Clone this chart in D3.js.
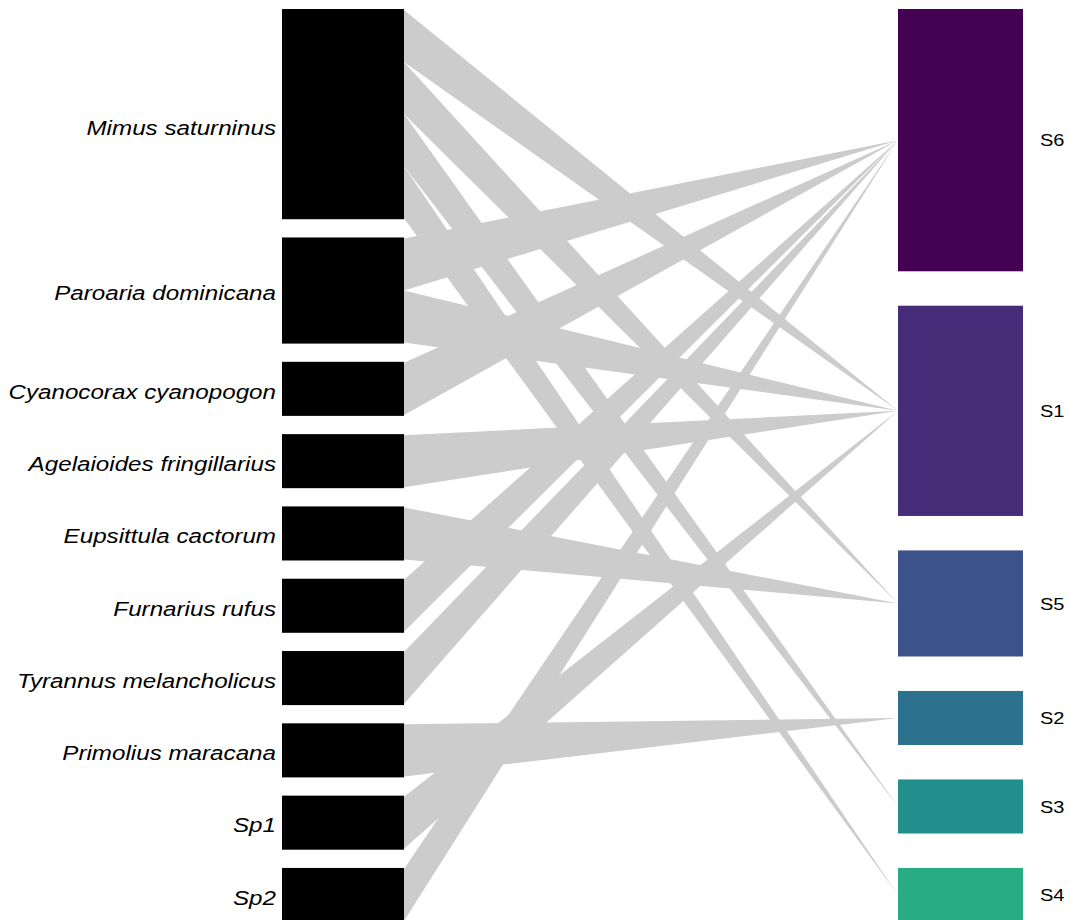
<!DOCTYPE html>
<html>
<head>
<meta charset="utf-8">
<script src="https://cdn.jsdelivr.net/npm/d3@7"></script>
<style>
  html, body { margin: 0; padding: 0; background: #ffffff; }
  svg { display: block; }
  text { font-family: "Liberation Sans", Arial, sans-serif; fill: #000; }
</style>
</head>
<body>
<svg id="web" width="1070" height="920"></svg>
<script>
// Lower level: bird species
const birds = [
  "Mimus saturninus",
  "Paroaria dominicana",
  "Cyanocorax cyanopogon",
  "Agelaioides fringillarius",
  "Eupsittula cactorum",
  "Furnarius rufus",
  "Tyrannus melancholicus",
  "Primolius maracana",
  "Sp1",
  "Sp2"
];

// Higher level: sites, in display order
const sites = ["S6", "S1", "S5", "S2", "S3", "S4"];
const siteColors = ["#440154", "#472c7a", "#3b528b", "#2c728e", "#21908c", "#27ad81"];

// Interaction counts: one row per bird, columns follow `sites`
const visits = [
  [0, 1, 1, 0, 1, 1],
  [1, 1, 0, 0, 0, 0],
  [1, 0, 0, 0, 0, 0],
  [0, 1, 0, 0, 0, 0],
  [0, 0, 1, 0, 0, 0],
  [1, 0, 0, 0, 0, 0],
  [1, 0, 0, 0, 0, 0],
  [0, 0, 0, 1, 0, 0],
  [0, 1, 0, 0, 0, 0],
  [1, 0, 0, 0, 0, 0]
];

const svg = d3.select("#web");

// Geometry of the two columns
const yTop = 10, yBottom = 921, spacing = 0.2;
const lowX0 = 283, lowX1 = 403;     // bird boxes
const highX0 = 899, highX1 = 1022;  // site boxes
const linkX0 = 404, linkX1 = 898;

const birdTotals = visits.map(r => d3.sum(r));
const siteTotals = sites.map((_, j) => d3.sum(visits, r => r[j]));
const grand = d3.sum(birdTotals);

// interactions -> pixels
const u = d3.scaleLinear()
  .domain([0, grand])
  .range([0, (yBottom - yTop) * (1 - spacing)]);
const gapPx = (yBottom - yTop) * spacing;

function stack(totals) {
  const gap = gapPx / (totals.length - 1);
  let y = yTop;
  return totals.map(t => {
    const b = { y0: y, y1: y + u(t) };
    y = b.y1 + gap;
    return b;
  });
}

const birdBoxes = stack(birdTotals);
const siteBoxes = stack(siteTotals);

// Links: each bird's band is split in site order and tapers to the site centre
const links = [];
visits.forEach((row, i) => {
  let y = birdBoxes[i].y0;
  row.forEach((v, j) => {
    if (v > 0) {
      links.push({ i, j, y0: y, y1: y + u(v) });
      y += u(v);
    }
  });
});

svg.append("g")
  .selectAll("path")
  .data(links)
  .join("path")
  .attr("fill", "#cccccc")
  .attr("stroke", "none")
  .attr("d", d => {
    const p = d3.path();
    const cy = (siteBoxes[d.j].y0 + siteBoxes[d.j].y1) / 2;
    p.moveTo(linkX0, d.y0);
    p.lineTo(linkX0, d.y1);
    p.lineTo(linkX1, cy);
    p.closePath();
    return p.toString();
  });

// Bird boxes
svg.append("g")
  .selectAll("rect")
  .data(birdBoxes)
  .join("rect")
  .attr("x", lowX0)
  .attr("width", lowX1 - lowX0)
  .attr("y", d => d.y0)
  .attr("height", d => d.y1 - d.y0)
  .attr("fill", "#000")
  .attr("stroke", "#000")
  .attr("stroke-width", 2);

// Site boxes
svg.append("g")
  .selectAll("rect")
  .data(siteBoxes)
  .join("rect")
  .attr("x", highX0)
  .attr("width", highX1 - highX0)
  .attr("y", d => d.y0)
  .attr("height", d => d.y1 - d.y0)
  .attr("fill", (d, j) => siteColors[j])
  .attr("stroke", (d, j) => siteColors[j])
  .attr("stroke-width", 2);

// Bird labels (the tall first box carries its label a little below centre)
const labelY = (b, i) => (b.y0 + b.y1) / 2 + 3 + (i === 0 ? 11 : 0);
svg.append("g")
  .selectAll("text")
  .data(birds)
  .join("text")
  .attr("transform", (d, i) => `translate(276,${labelY(birdBoxes[i], i)}) scale(1.21,1)`)
  .attr("text-anchor", "end")
  .attr("dominant-baseline", "central")
  .attr("font-style", "italic")
  .attr("font-size", 20)
  .text(d => d);

// Site labels
svg.append("g")
  .selectAll("text")
  .data(sites)
  .join("text")
  .attr("transform", (d, j) => `translate(1040,${(siteBoxes[j].y0 + siteBoxes[j].y1) / 2 + 1}) scale(1.25,1)`)
  .attr("text-anchor", "start")
  .attr("dominant-baseline", "central")
  .attr("font-size", 16)
  .text(d => d);
</script>
</body>
</html>
